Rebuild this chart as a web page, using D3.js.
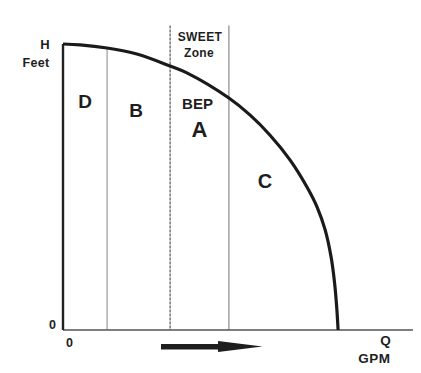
<!DOCTYPE html>
<meta charset="utf-8">
<script src="https://d3js.org/d3.v7.min.js"></script>
<style>
  body { margin: 0; background: #fff; }
  text { font-family: "Liberation Sans", Arial, sans-serif; font-weight: bold; fill: #1e1e1e; }
</style>
<div id="my_dataviz"></div>
<script>

  // pump head-capacity curve (Q in % of axis, H in % of shutoff head)
  var curveQ = [0, 4.9, 12.6, 21.1, 30.6, 35.4, 47.4, 53.4, 59.1, 64.9, 69.7, 72.6, 74.9, 76.6, 77.6, 78.2, 78.6]
  var curveH = [100, 99.7, 98.6, 96.5, 92.3, 89.9, 81.1, 75.2, 68.2, 59.4, 50, 43, 35, 25.5, 16.4, 8, 0]

  // region boundaries along Q
  var dLine = 12.6
  var zoneLines = [30.6, 47.4]
  var zoneTop = 106.5

  // region labels
  var regionLabels = [
    {t: "D", q: 6.3, h: 77.5, size: 19},
    {t: "B", q: 20.9, h: 74.5, size: 19},
    {t: "A", q: 39, h: 67.5, size: 22},
    {t: "C", q: 57.7, h: 49.5, size: 20}
  ]

  var margin = {left: 63, top: 44},
    width = 350,
    height = 286;

  var svg = d3.select("#my_dataviz")
    .append("svg")
      .attr("width", 421)
      .attr("height", 373)

  var x = d3.scaleLinear().domain([0, 100]).range([margin.left, margin.left + width])
  var y = d3.scaleLinear().domain([0, 100]).range([margin.top + height, margin.top])

  // vertical divider between D and B (stops at the curve)
  var dTop = d3.scaleLinear().domain(curveQ).range(curveH)(dLine)
  svg.append("line")
    .attr("x1", x(dLine)).attr("x2", x(dLine))
    .attr("y1", y(dTop)).attr("y2", y(0))
    .attr("stroke", "#9a9a9a").attr("stroke-width", 1.2)

  // sweet zone lines
  svg.selectAll(".zone")
    .data(zoneLines)
    .enter()
    .append("line")
      .attr("x1", d => x(d)).attr("x2", d => x(d))
      .attr("y1", y(zoneTop)).attr("y2", y(0))
      .attr("stroke", (d, i) => i == 0 ? "#555" : "#8a8a8a")
      .attr("stroke-width", 1.2)
      .attr("stroke-dasharray", (d, i) => i == 0 ? "3,1" : null)

  // axes
  svg.append("line")
    .attr("x1", x(0)).attr("x2", x(100))
    .attr("y1", y(0)).attr("y2", y(0))
    .attr("stroke", "#555").attr("stroke-width", 1.6)
  svg.append("line")
    .attr("x1", x(0)).attr("x2", x(0))
    .attr("y1", y(0)).attr("y2", y(100))
    .attr("stroke", "#222").attr("stroke-width", 2.4)

  // the H-Q curve
  var pts = curveQ.map((q, i) => [q, curveH[i]])
  var line = d3.line()
    .x(d => x(d[0]))
    .y(d => y(d[1]))
    .curve(d3.curveCatmullRom.alpha(0.5))
  svg.append("path")
    .datum(pts)
    .attr("d", line)
    .attr("fill", "none")
    .attr("stroke", "#1a1a1a")
    .attr("stroke-width", 3.2)

  // arrow (increasing flow)
  var arrow = [[28, 0], [44.3, 0], [57, 0]]
  var ay = y(0) + 17
  svg.append("path")
    .attr("d", "M" + x(arrow[0][0]) + "," + (ay - 3) +
               "L" + x(arrow[1][0]) + "," + (ay - 3) +
               "L" + x(arrow[1][0]) + "," + (ay - 6) +
               "L" + x(arrow[2][0]) + "," + (ay - 0.5) +
               "L" + x(arrow[1][0]) + "," + (ay + 5) +
               "L" + x(arrow[1][0]) + "," + (ay + 2.5) +
               "L" + x(arrow[0][0]) + "," + (ay + 2.5) + "Z")
    .attr("fill", "#1e1e1e")

  // region letters
  svg.selectAll(".lab")
    .data(regionLabels)
    .enter()
    .append("text")
      .attr("x", d => x(d.q))
      .attr("y", d => y(d.h))
      .attr("text-anchor", "middle")
      .style("font-size", d => d.size + "px")
      .text(d => d.t)

  // other text
  var texts = [
    {t: "SWEET", x: 200, y: 41, size: 12, ls: 0.4},
    {t: "Zone", x: 199, y: 57, size: 12, ls: 0.3},
    {t: "BEP", x: 197.5, y: 109, size: 15, ls: 0},
    {t: "H", x: 45, y: 49, size: 13, ls: 0},
    {t: "Feet", x: 36, y: 67, size: 12.5, ls: 0.3},
    {t: "0", x: 52.5, y: 329, size: 12.5, ls: 0},
    {t: "0", x: 69.5, y: 347, size: 12.5, ls: 0},
    {t: "Q", x: 385.5, y: 345, size: 13.5, ls: 0},
    {t: "GPM", x: 374.5, y: 363, size: 13.5, ls: 0.5}
  ]
  svg.selectAll(".txt")
    .data(texts)
    .enter()
    .append("text")
      .attr("x", d => d.x)
      .attr("y", d => d.y)
      .attr("text-anchor", "middle")
      .style("font-size", d => d.size + "px")
      .style("letter-spacing", d => d.ls + "px")
      .text(d => d.t)

</script>
